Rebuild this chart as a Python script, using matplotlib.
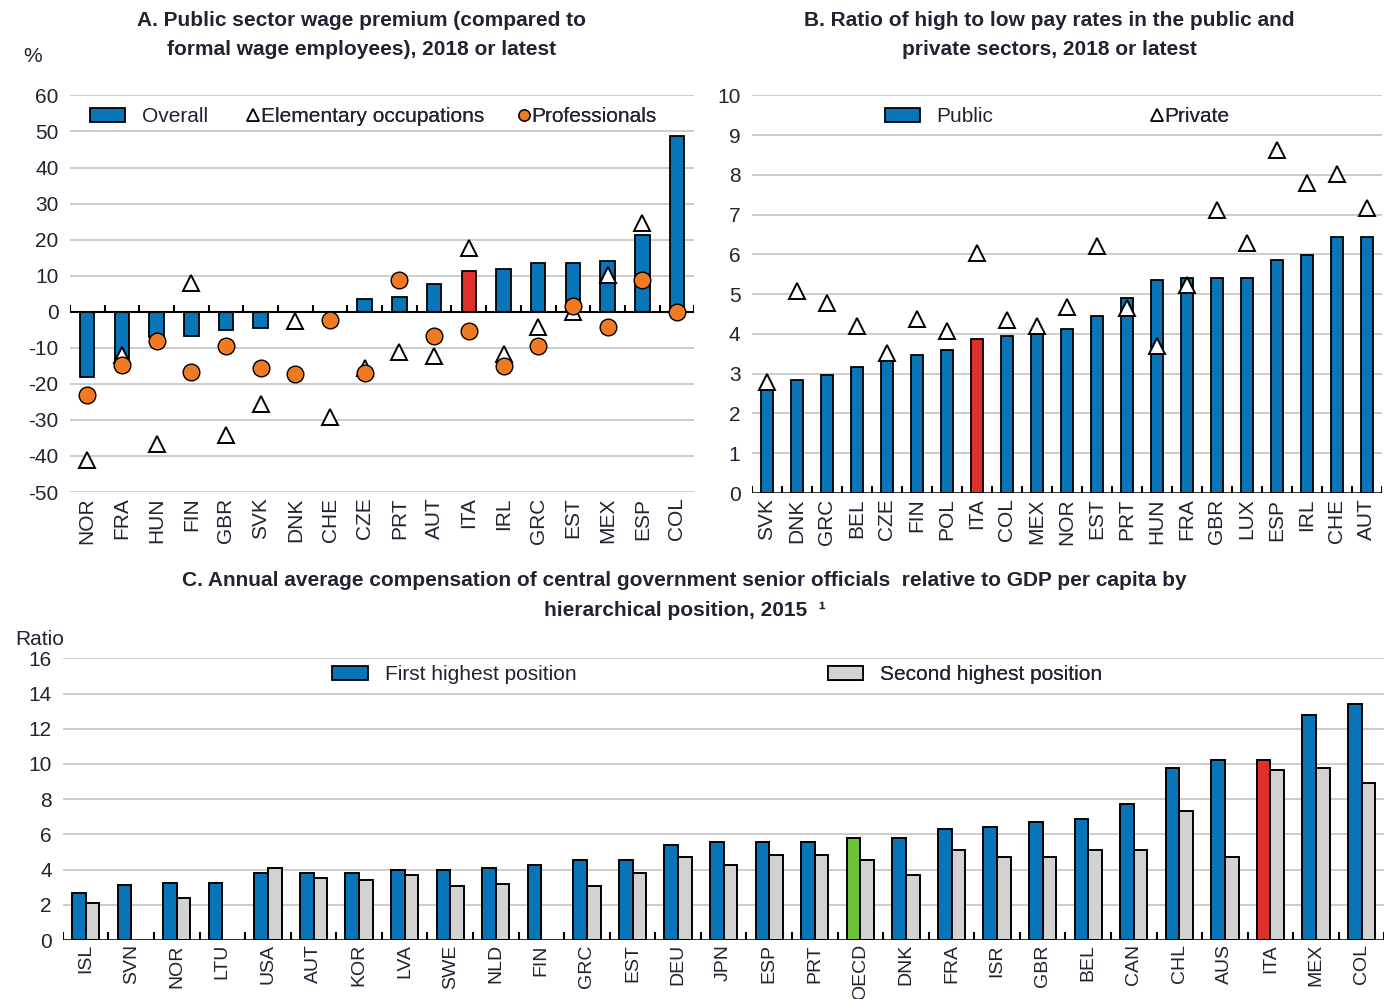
import numpy as np
import matplotlib
matplotlib.use("Agg")
import matplotlib.pyplot as plt
from matplotlib.lines import Line2D
from matplotlib.patches import Patch

plt.rcParams['font.family'] = ['Liberation Sans', 'DejaVu Sans']
plt.rcParams['axes.unicode_minus'] = False

# Panel A data
a_countries = ["NOR", "FRA", "HUN", "FIN", "GBR", "SVK", "DNK", "CHE", "CZE",
               "PRT", "AUT", "ITA", "IRL", "GRC", "EST", "MEX", "ESP", "COL"]
a_overall = [-18.0, -13.5, -7.0, -6.6, -5.1, -4.5, 0.0, 0.0, 3.5,
             4.1, 7.8, 11.2, 11.8, 13.4, 13.4, 14.1, 21.2, 48.7]
a_elementary = [-41.0, -12.0, -36.6, 8.1, -34.3, -25.7, -2.5, -29.2, -15.5,
                -11.2, -12.4, 17.8, -11.7, -4.1, -0.2, 10.2, 24.7, np.nan]
a_professionals = [-23.0, -14.7, -8.2, -16.8, -9.6, -15.6, -17.2, -2.3, -17.0,
                   8.8, -6.6, -5.3, -15.1, -9.4, 1.6, -4.3, 8.8, -0.2]

# Panel B data
b_countries = ["SVK", "DNK", "GRC", "BEL", "CZE", "FIN", "POL", "ITA", "COL", "MEX", "NOR",
               "EST", "PRT", "HUN", "FRA", "GBR", "LUX", "ESP", "IRL", "CHE", "AUT"]
b_public = [2.6, 2.85, 2.98, 3.17, 3.35, 3.48, 3.6, 3.87, 3.94, 4.0, 4.13,
            4.44, 4.9, 5.35, 5.41, 5.41, 5.41, 5.87, 5.99, 6.45, 6.45]
b_private = [2.8, 5.07, 4.78, 4.19, 3.52, 4.38, 4.07, 6.04, 4.36, 4.19, 4.69,
             6.2, 4.65, 3.69, 5.24, 7.12, 6.3, 8.63, 7.8, 8.02, 7.16]

# Panel C data
c_countries = ["ISL", "SVN", "NOR", "LTU", "USA", "AUT", "KOR", "LVA", "SWE", "NLD",
               "FIN", "GRC", "EST", "DEU", "JPN", "ESP", "PRT", "OECD", "DNK", "FRA",
               "ISR", "GBR", "BEL", "CAN", "CHL", "AUS", "ITA", "MEX", "COL"]
c_first = [2.68, 3.12, 3.25, 3.25, 3.82, 3.82, 3.82, 3.97, 3.97, 4.12,
           4.25, 4.57, 4.57, 5.39, 5.58, 5.58, 5.58, 5.8, 5.82, 6.28,
           6.43, 6.71, 6.86, 7.75, 9.77, 10.2, 10.2, 12.8, 13.42]
c_second = [2.08, np.nan, 2.4, np.nan, 4.12, 3.55, 3.4, 3.69, 3.08, 3.21,
            np.nan, 3.08, 3.82, 4.69, 4.25, 4.82, 4.82, 4.54, 3.69, 5.14,
            4.69, 4.69, 5.14, 5.14, 7.32, 4.69, 9.64, 9.77, 8.92]

BLUE = "#0A74B8"
RED = "#E0302B"
GREEN = "#6DC23A"
GREY = "#D2D2D2"
ORANGE = "#EF7A22"
GRID = "#C9C9C9"
TXT = "#222233"
FS = 15

fig = plt.figure(figsize=(13.97, 9.99), dpi=100)


def style_axes(ax):
    for s in ax.spines.values():
        s.set_visible(False)
    ax.tick_params(axis='y', length=0, labelsize=FS, labelcolor=TXT, pad=8)
    ax.tick_params(axis='x', length=0, labelsize=FS, labelcolor=TXT, pad=4)
    ax.set_axisbelow(True)
    ax.yaxis.grid(True, color=GRID, lw=1.3)


def bar_colors(names, special):
    return [special.get(n, BLUE) for n in names]


def add_legend(ax, handles, x, y, hl=1.7, pad=0.8, cs=1.6):
    leg = ax.legend(handles=handles, loc="upper left", bbox_to_anchor=(x, y),
                    ncol=len(handles), frameon=False, fontsize=FS, borderpad=0,
                    borderaxespad=0, handlelength=hl, handletextpad=pad,
                    columnspacing=cs, labelcolor=TXT)
    ax.add_artist(leg)
    return leg


def tri_handle(label):
    return Line2D([], [], ls="none", marker="^", ms=8, mfc="white", mec="black",
                  mew=1.2, label=label)


# ---------------- Panel A ----------------
axA = fig.add_axes([0.050, 0.5075, 0.447, 0.397])
style_axes(axA)
xa = np.arange(len(a_countries))
axA.bar(xa, a_overall, width=0.42, color=bar_colors(a_countries, {"ITA": RED}),
        edgecolor="black", lw=1.3, zorder=2)
axA.plot(xa, a_elementary, ls="none", marker="^", ms=11, mfc="white", mec="black",
         mew=1.4, zorder=3)
axA.plot(xa, a_professionals, ls="none", marker="o", ms=12, mfc=ORANGE, mec="black",
         mew=1.0, zorder=4)
axA.axhline(0, color="black", lw=1.5, zorder=3)
axA.vlines(np.arange(len(a_countries) + 1) - 0.5, 0, 2.0, color="black", lw=1.5, zorder=3)
axA.set_xlim(-0.5, len(a_countries) - 0.5)
axA.set_ylim(-50, 60)
axA.set_yticks(range(-50, 61, 10))
axA.set_xticks(xa)
axA.set_xticklabels(a_countries, rotation=90)
add_legend(axA, [Patch(facecolor=BLUE, edgecolor="black", lw=1.3, label="Overall")],
           0.032, 0.97)
add_legend(axA, [tri_handle("Elementary occupations"),
                 Line2D([], [], ls="none", marker="o", ms=8, mfc=ORANGE, mec="black",
                        mew=1.0, label="Professionals")],
           0.284, 0.97, hl=0.6, pad=0.05, cs=1.6)
fig.text(0.017, 0.938, "%", fontsize=FS, color=TXT)
fig.text(0.259, 0.965, "A. Public sector wage premium (compared to\nformal wage employees), 2018 or latest",
         ha="center", va="center", fontsize=15, fontweight="bold", color=TXT, linespacing=1.7)

# ---------------- Panel B ----------------
axB = fig.add_axes([0.538, 0.5065, 0.451, 0.398])
style_axes(axB)
xb = np.arange(len(b_countries))
axB.bar(xb, b_public, width=0.4, color=bar_colors(b_countries, {"ITA": RED}),
        edgecolor="black", lw=1.3, zorder=2)
axB.plot(xb, b_private, ls="none", marker="^", ms=11, mfc="white", mec="black",
         mew=1.4, zorder=3)
axB.axhline(0, color="black", lw=1.8, zorder=3)
axB.vlines(np.arange(len(b_countries) + 1) - 0.5, 0, 0.18, color="black", lw=1.5, zorder=3)
axB.set_xlim(-0.5, len(b_countries) - 0.5)
axB.set_ylim(0, 10)
axB.set_yticks(range(0, 11))
axB.set_xticks(xb)
axB.set_xticklabels(b_countries, rotation=90)
add_legend(axB, [Patch(facecolor=BLUE, edgecolor="black", lw=1.3, label="Public")],
           0.211, 0.97)
add_legend(axB, [tri_handle("Private")], 0.633, 0.97, hl=0.6, pad=0.05)
fig.text(0.751, 0.965, "B. Ratio of high to low pay rates in the public and\nprivate sectors, 2018 or latest",
         ha="center", va="center", fontsize=15, fontweight="bold", color=TXT, linespacing=1.7)

# ---------------- Panel C ----------------
axC = fig.add_axes([0.045, 0.059, 0.946, 0.282])
style_axes(axC)
axC.tick_params(axis='x', labelsize=14, pad=3)
xc = np.arange(len(c_countries))
w = 0.3
axC.bar(xc - w / 2, c_first, width=w,
        color=bar_colors(c_countries, {"ITA": RED, "OECD": GREEN}),
        edgecolor="black", lw=1.4, zorder=2)
axC.bar(xc + w / 2, c_second, width=w, color=GREY, edgecolor="black", lw=1.4, zorder=2)
axC.axhline(0, color="black", lw=1.8, zorder=3)
axC.vlines(np.arange(len(c_countries) + 1) - 0.5, 0, 0.45, color="black", lw=1.5, zorder=3)
axC.set_xlim(-0.5, len(c_countries) - 0.5)
axC.set_ylim(0, 16)
axC.set_yticks(range(0, 17, 2))
axC.set_xticks(xc)
axC.set_xticklabels(c_countries, rotation=90)
add_legend(axC, [Patch(facecolor=BLUE, edgecolor="black", lw=1.3, label="First highest position")],
           0.204, 0.975)
add_legend(axC, [Patch(facecolor=GREY, edgecolor="black", lw=1.3, label="Second highest position")],
           0.579, 0.975)
fig.text(0.011, 0.354, "Ratio", fontsize=FS, color=TXT)
fig.text(0.49, 0.404, "C. Annual average compensation of central government senior officials  relative to GDP per capita by\nhierarchical position, 2015  \u00b9",
         ha="center", va="center", fontsize=15, fontweight="bold", color=TXT, linespacing=1.7)

fig.savefig("out.png", dpi=100)
